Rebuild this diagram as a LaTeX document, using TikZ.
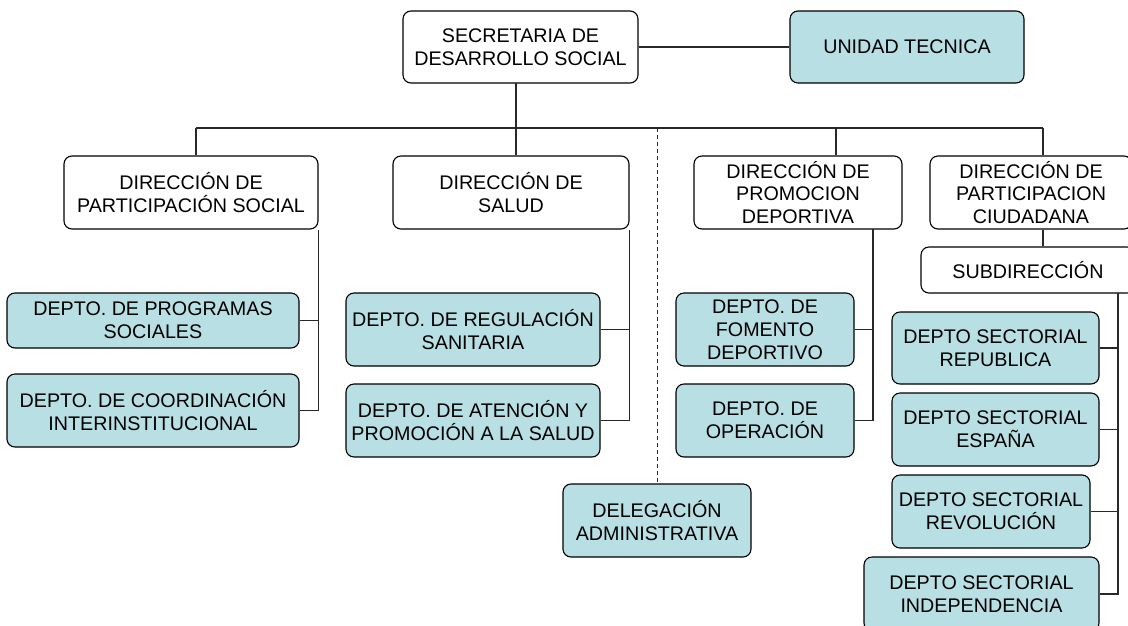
\documentclass[tikz,border=0pt]{standalone}
\usepackage{fontspec}
\setmainfont{Liberation Sans}
\definecolor{boxfill}{RGB}{184,223,227}
\definecolor{linecol}{RGB}{40,40,40}
\tikzset{
  orgbox/.style={draw=black, line width=1.1pt, rounded corners=8pt, inner sep=0pt, align=center,
     font=\fontsize{19.7}{22.8}\selectfont, fill=white},
  deptbox/.style={orgbox, fill=boxfill},
  conn/.style={draw=linecol, line width=1.3pt},
}
\newcommand{\bx}[7]{% name, style, x1, y1, x2, y2, text
  \node[#2, minimum width={(#5-#3)*1pt}, minimum height={(#6-#4)*1pt}] (#1) at ({(#3+#5)/2},{(#4+#6)/2}) {#7};}
\begin{document}
\begin{tikzpicture}[x=1pt,y=-1pt]
\useasboundingbox (0,0) rectangle (1128,625);
\clip (0,0) rectangle (1128,625);
\fill[white] (0,0) rectangle (1128,625);
% coordinates for the bus
\coordinate (busL) at (196,128);
\coordinate (busR) at (1043,128);
\coordinate (busS) at (516,128);
\coordinate (busD) at (657,128);
\coordinate (busP) at (836,128);
\coordinate (secdrop) at (516,83);
% connectors first (under boxes)
\bx{sec}{orgbox}{403}{11}{638}{83}{SECRETARIA DE\\DESARROLLO SOCIAL}
\bx{ut}{deptbox}{790}{11}{1024}{83}{UNIDAD TECNICA}
\bx{dps}{orgbox}{64}{156}{318}{229}{DIRECCIÓN DE\\PARTICIPACIÓN SOCIAL}
\bx{ds}{orgbox}{393}{156}{629}{229}{DIRECCIÓN DE\\SALUD}
\bx{dpd}{orgbox}{694}{156}{902}{229}{DIRECCIÓN DE\\PROMOCION\\DEPORTIVA}
\bx{dpc}{orgbox}{930}{156}{1132}{229}{DIRECCIÓN DE\\PARTICIPACION\\CIUDADANA}
\bx{sub}{orgbox}{921}{247}{1135}{293}{SUBDIRECCIÓN}
\bx{dprog}{deptbox}{7}{293}{299}{348}{DEPTO. DE PROGRAMAS\\SOCIALES}
\bx{dcoord}{deptbox}{7}{374}{299}{447}{DEPTO. DE COORDINACIÓN\\INTERINSTITUCIONAL}
\bx{dreg}{deptbox}{346}{293}{600}{366}{DEPTO. DE REGULACIÓN\\SANITARIA}
\bx{date}{deptbox}{346}{384}{600}{457}{DEPTO. DE ATENCIÓN Y\\PROMOCIÓN A LA SALUD}
\bx{dfom}{deptbox}{676}{293}{854}{366}{DEPTO. DE\\FOMENTO\\DEPORTIVO}
\bx{dope}{deptbox}{676}{384}{854}{457}{DEPTO. DE\\OPERACIÓN}
\bx{del}{deptbox}{563}{484}{751}{557}{DELEGACIÓN\\ADMINISTRATIVA}
\bx{drep}{deptbox}{892}{312}{1099}{384}{DEPTO SECTORIAL\\REPUBLICA}
\bx{desp}{deptbox}{892}{393}{1099}{466}{DEPTO SECTORIAL\\ESPAÑA}
\bx{drev}{deptbox}{892}{475}{1090}{548}{DEPTO SECTORIAL\\REVOLUCIÓN}
\bx{dind}{deptbox}{864}{557}{1099}{631}{DEPTO SECTORIAL\\INDEPENDENCIA}
% connectors
\draw[conn] (sec.east) -- (ut.west);
\draw[conn] (secdrop) -- (busS);
\draw[conn] (busL) -- (busR);
\draw[conn] (busL) -- (busL |- dps.north);
\draw[conn] (busS) -- (busS |- ds.north);
\draw[conn] (busP) -- (busP |- dpd.north);
\draw[conn] (busR) -- (busR |- dpc.north);
\draw[conn, line width=0.9pt, dash pattern=on 4pt off 3pt] (busD) -- (busD |- del.north);
% participacion social
\draw[conn] (dprog.east) -| (dps.south east);
\draw[conn] (dcoord.east) -| (dps.south east);
% salud
\draw[conn] (dreg.east) -| (ds.south east);
\draw[conn] (date.east) -| (ds.south east);
% promocion deportiva
\coordinate (pdrop) at (873,229);
\draw[conn] (dfom.east) -| (pdrop);
\draw[conn] (dope.east) -| (pdrop);
% participacion ciudadana
\draw[conn] (busR |- dpc.south) -- (busR |- sub.north);
\coordinate (sdrop) at (1118,293);
\draw[conn] (drep.east) -| (sdrop);
\draw[conn] (desp.east) -| (sdrop);
\draw[conn] (drev.east) -| (sdrop);
\draw[conn] (dind.east) -| (sdrop);
\end{tikzpicture}
\end{document}
